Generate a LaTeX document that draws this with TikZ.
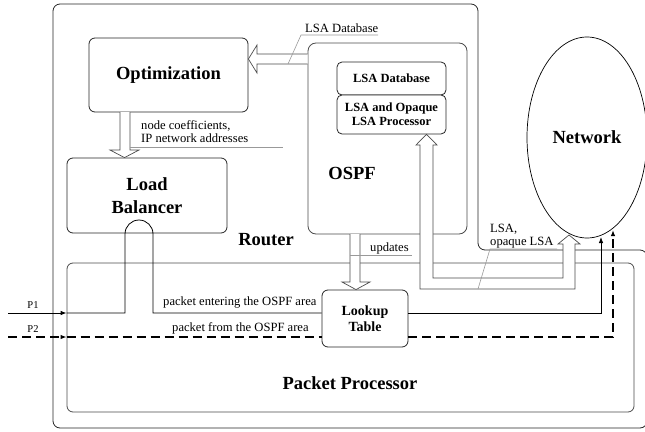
\documentclass[tikz,border=0pt]{standalone}
\usepackage{fontspec}
\setmainfont{Liberation Serif}
\usetikzlibrary{arrows.meta,shapes.geometric,calc}

\begin{document}
\begin{tikzpicture}[x=1pt,y=-1pt,
  edge/.style={draw=black!85,line width=0.8pt},
  box/.style={edge,fill=white,rounded corners=6pt,inner sep=0pt},
  bigtxt/.style={font=\fontsize{18.5}{22.5}\selectfont\bfseries,align=center},
  midtxt/.style={font=\fontsize{12.5}{14}\selectfont\bfseries,align=center},
  lkptxt/.style={font=\fontsize{14}{16}\selectfont\bfseries,align=center},
  lbl/.style={font=\fontsize{12.6}{13.5}\selectfont,align=left,inner sep=0pt},
  ptxt/.style={font=\fontsize{10.5}{12}\selectfont,inner sep=0pt},
  leader/.style={draw=black!40,line width=0.6pt},
  hollow/.style={draw=black!70,fill=white,line width=0.7pt,line join=miter},
  flow/.style={draw=black,line width=0.8pt},
  flowtip/.style={-{Latex[length=6pt,width=4.5pt]}},
  dashflow/.style={draw=black,line width=1.4pt,dash pattern=on 9pt off 5pt}
]
\useasboundingbox (0,0) rectangle (645,431);
\clip (0,0) rectangle (645,431);

% router outline, open to the network on the upper right
\draw[edge,rounded corners=7pt] (53,4) -- (478,4) -- (478,250) -- (647,250)
  -- (647,428) -- (53,428) -- cycle;
\node[bigtxt] (rtr) at (266,240) {Router};

% packet processor
\node[box,minimum width=567pt,minimum height=149pt,draw=black!70] (pp) at (350.5,337.5) {};
\node[bigtxt] (pplbl) at (350,383) {Packet Processor};

% main blocks
\node[box,bigtxt,minimum width=159pt,minimum height=74pt] (opt) at (168.5,75) {Optimization};
\node[box,bigtxt,minimum width=160pt,minimum height=75pt] (lb) at (147,195.5) {Load\\Balancer};
\node[box,draw=black!70,rounded corners=8pt,minimum width=159pt,minimum height=191pt] (ospf) at (387.5,138.5) {};
\node[bigtxt] (ospflbl) at (352,173) {OSPF};
\node[box,midtxt,rounded corners=5pt,minimum width=109pt,minimum height=33pt] (lsadb) at (391.5,78.5) {LSA Database};
\node[box,midtxt,rounded corners=5pt,minimum width=109pt,minimum height=39pt] (lsap) at (391.5,114.5) {LSA and Opaque\\LSA Processor};
\node[box,lkptxt,minimum width=86pt,minimum height=57pt] (lookup) at (365,318.5) {Lookup\\Table};
\node[ellipse,draw=black,line width=0.7pt,bigtxt,minimum width=120pt,minimum height=201pt,inner sep=0pt] (net) at (587,137.5) {Network};

% packet paths
\coordinate (p1in) at (8,313);
\coordinate (p2in) at (8,337);
\coordinate (p1net) at (601,237);
\coordinate (p2net) at (613,230);
\draw[flow,flowtip] (p1in) -- (pp.west |- p1in);
\draw[flow] (pp.west |- p1in) -- (125,313) -- (125,234)
  arc[start angle=180,end angle=360,radius=14] -- (153,313) -- (lookup.west |- p1in);
\draw[flow,flowtip] (lookup.east |- p1in) -- (p1net |- p1in) -- (p1net);
\draw[dashflow,flowtip] (p2in) -- (pp.west |- p2in);
\draw[dashflow] (pp.west |- p2in) -- (lookup.west |- p2in);
\draw[dashflow,flowtip] (lookup.east |- p2in) -- (p2net |- p2in) -- (p2net);

% block arrows
\draw[hollow] (ospf.west |- 0,54) -- (257,54) -- (257,45) -- (opt.east |- 0,59)
  -- (257,73) -- (257,64) -- (ospf.west |- 0,64) ;
\draw[hollow] (120,112) -- (120,150) -- (110,150) -- (lb.north -| 124.5,0)
  -- (139,150) -- (130,150) -- (130,112);
\draw[hollow] (350,234) -- (350,282) -- (342,282) -- (lookup.north -| 356,0)
  -- (370,282) -- (360,282) -- (360,234);
\draw[hollow] (420,145) -- (416,145) -- (lsap.south -| 426.5,0) -- (437,145) -- (433,145)
  -- (433,278) -- (563,278) -- (563,244) -- (558,244) -- (569,235) -- (580,244)
  -- (575,244) -- (575,289) -- (420,289) -- cycle;

% annotations (base anchors of two-line labels sit on the last line)
\node[lbl,anchor=base west] (dblbl) at (305,32.5) {LSA Database};
\draw[leader] (378,35) -- (301,35) -- (288,64);
\node[lbl,anchor=base west] (coeflbl) at (141,142.5) {node coefficients,\\IP network addresses};
\draw[leader] (130,147) -- (283,147);
\node[lbl,anchor=base west] (updlbl) at (370,251.5) {updates};
\draw[leader] (350,255) -- (412,255);
\node[lbl,anchor=base west] (lsalbl) at (490,245.5) {LSA,\\opaque LSA};
\draw[leader] (557,249) -- (490,249) -- (478,289);
\node[lbl,anchor=base west] (inlbl) at (163,305) {packet entering the OSPF area};
\node[lbl,anchor=base west] (outlbl) at (172,331.5) {packet from the OSPF area};
\node[ptxt,anchor=base] (p1lbl) at (33,308) {P1};
\node[ptxt,anchor=base] (p2lbl) at (33,332) {P2};
\end{tikzpicture}
\end{document}
